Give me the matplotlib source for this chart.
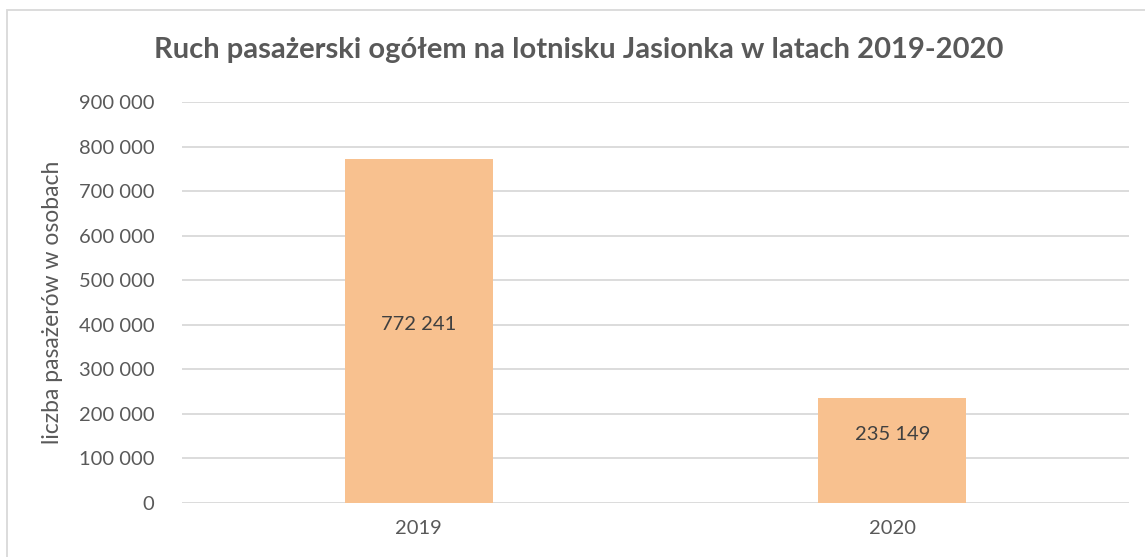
import matplotlib
matplotlib.use("Agg")
import matplotlib.pyplot as plt
from matplotlib.patches import Rectangle
from matplotlib.ticker import FuncFormatter

# data
years = ["2019", "2020"]
passengers = [772241, 235149]
label_frac = [0.518, 0.65]  # where the value labels sit inside each bar

plt.rcParams['font.family'] = ['Lato', 'DejaVu Sans']
text_col = "#595959"

fig = plt.figure(figsize=(11.45, 5.57), dpi=100)
ax = fig.add_axes([182 / 1145, 1 - 503 / 557, (1129 - 182) / 1145, 401 / 557])

x = range(len(years))
bars = ax.bar(x, passengers, width=0.313, color="#F8C18F", zorder=2)

for i, b in enumerate(bars):
    v = passengers[i]
    ax.text(b.get_x() + b.get_width() / 2, v * label_frac[i],
            f"{v:,}".replace(",", " "), ha="center", va="center",
            fontsize=14.5, color="#404040", zorder=3)

ax.set_xlim(-0.5, len(years) - 0.5)
ax.set_ylim(0, 900000)
ax.set_yticks(range(0, 900001, 100000))
ax.yaxis.set_major_formatter(FuncFormatter(lambda v, p: f"{int(v):,}".replace(",", " ")))
ax.set_xticks(list(x))
ax.set_xticklabels(years)
ax.tick_params(axis="both", length=0, labelsize=14.5, labelcolor=text_col)
ax.tick_params(axis="y", pad=20)
ax.tick_params(axis="x", pad=12)
ax.grid(axis="y", color="#D9D9D9", linewidth=1.3, zorder=0)
for s in ax.spines.values():
    s.set_visible(False)

ax.set_ylabel("liczba pasażerów w osobach", fontsize=16.5, color=text_col, labelpad=11)
fig.text(0.505, 1 - 50 / 557, "Ruch pasażerski ogółem na lotnisku Jasionka w latach 2019-2020",
         ha="center", va="center", fontsize=21, fontweight="bold", color=text_col)

# chart frame (right and bottom edges fall outside the image)
fig.patches.append(Rectangle((7 / 1145, -0.05), 1.1, 1.05 - 10 / 557,
                             transform=fig.transFigure, fill=False,
                             edgecolor="#D9D9D9", linewidth=1.3))

fig.savefig("out.png", dpi=100)
